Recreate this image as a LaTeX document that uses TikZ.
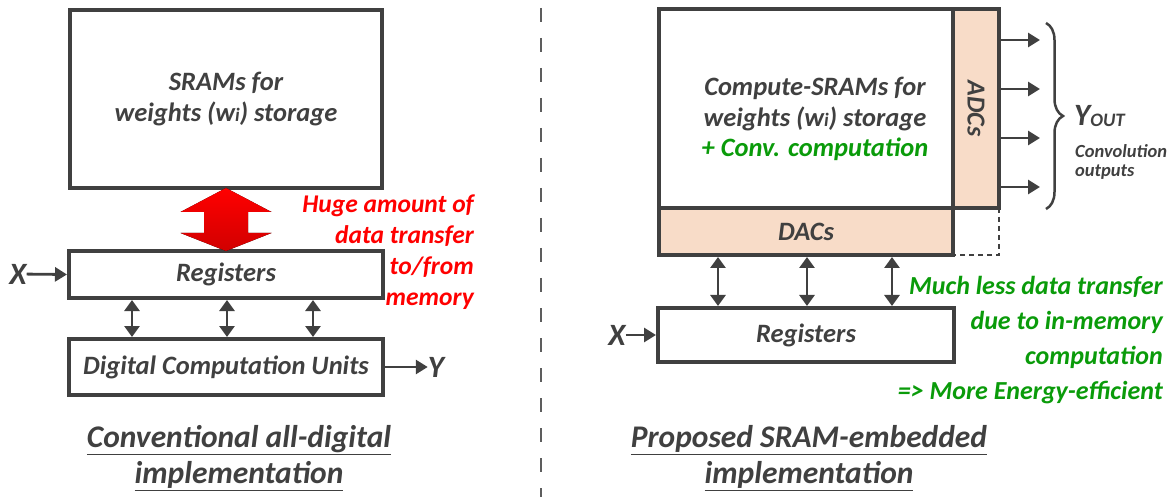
\documentclass[tikz,border=0pt]{standalone}
\usepackage{fontspec}
\setmainfont{Carlito}
\usetikzlibrary{arrows.meta,decorations.pathreplacing,calc}
\definecolor{txtgray}{RGB}{64,64,64}
\definecolor{linegray}{RGB}{64,64,64}
\definecolor{peach}{RGB}{248,220,200}
\definecolor{myred}{RGB}{255,0,0}
\definecolor{mygreen}{RGB}{10,155,10}
\newcommand{\fsz}[2]{\fontsize{#1}{#2}\selectfont}
\newcommand{\smi}{{\fontsize{19}{19}\selectfont i}}
\begin{document}
\begin{tikzpicture}[x=1pt,y=-1pt,
  box/.style={draw=linegray, line width=4pt, inner sep=0pt, outer sep=2pt,
    text=txtgray, font=\fsz{26.5}{31.5}\bfseries\itshape, align=center},
  lbl/.style={text=txtgray, inner sep=0pt, font=\fsz{31}{32}\bfseries\itshape},
  dbl/.style={draw=linegray, line width=2.8pt,
    {Triangle[length=11pt,width=15pt]}-{Triangle[length=11pt,width=15pt]}},
  sarr/.style={draw=linegray, line width=2.8pt, -{Triangle[length=12pt,width=14pt]}},
  dsh/.style={draw=linegray, line width=1.8pt, dash pattern=on 5pt off 4pt},
  title/.style={text=txtgray, inner sep=0pt, align=center,
    font=\fsz{31.5}{36}\bfseries\itshape}]
\useasboundingbox (0,0) rectangle (1176,497);

% divider
\draw[draw=linegray!85, line width=1.5pt, dash pattern=on 14pt off 16pt] (541,8) -- (541,497);

% ---------- left ----------
\node[box, minimum width=312pt, minimum height=178pt] (sram) at (226,99)
  {SRAMs for\\weights (w\smi) storage};
\node[box, minimum width=314pt, minimum height=47pt] (regL) at (226,274.5) {Registers};
\node[box, minimum width=314pt, minimum height=56pt] (dcu) at (226,367) {Digital Computation Units};

\fill[top color=myred, bottom color=myred!82!black]
  ([yshift=2pt]sram.south) -- ++(45.5,24) -- ++(-23.5,0) -- ++(0,21) -- ++(23.5,0)
  -- ++(-45.5,18) -- ++(-45.5,-18) -- ++(23.5,0) -- ++(0,-21) -- ++(-23.5,0) -- cycle;

\node[text=myred, inner sep=0pt, anchor=east, align=right, font=\fsz{25.5}{31}\bfseries\itshape]
  (huge) at (474,252) {Huge amount of\\data transfer\\to/from\\memory};

\foreach \dx in {-94,1,87}
  \draw[dbl] ([xshift=\dx pt]regL.south) -- ([xshift=\dx pt]dcu.north);

\node[lbl] (xL) at (18,274) {X};
\draw[sarr] (xL) -- (regL.west);
\node[lbl] (yL) at (436,367) {Y};
\draw[sarr] (dcu.east) -- (yL);

\node[title] (tL) at (239,458) {\underline{Conventional all-digital}\\\underline{implementation}};

% ---------- right ----------
\node[box, minimum width=294pt, minimum height=199pt] (csram) at (806,108.5) {};
\node[text=txtgray, inner sep=0pt, align=center, font=\fsz{26.5}{30.5}\bfseries\itshape]
  (csramt) at (815,119) {Compute-SRAMs for\\weights (w\smi) storage\\\textcolor{mygreen}{+ Conv. computation}};
\node[box, fill=peach, minimum width=46pt, minimum height=199pt] (adc) at (976,108.5) {};
\node[rotate=-90, text=txtgray, inner sep=0pt, font=\fsz{26}{28}\bfseries\itshape] (adct) at (adc.center) {ADCs};
\node[box, fill=peach, minimum width=294pt, minimum height=47pt] (dac) at (806,231.5) {DACs};
\draw[dsh] ([xshift=-2pt,yshift=2pt]adc.south east) |- ([yshift=2pt]dac.south east);

\foreach \yy/\nm in {40/o1,89/o2,138/o3,187/o4} {
  \coordinate (\nm) at (1040,\yy);
  \draw[sarr] (adc.east |- \nm) -- (\nm);
}
\draw[draw=linegray, line width=2.5pt, decorate, decoration={brace, amplitude=17pt}]
  (1046,23) -- (1046,209);
\node[text=txtgray, inner sep=0pt, anchor=base west, font=\fsz{31}{32}\bfseries\itshape]
  (yout) at (1074,126) {Y{\fsz{19}{20}\raisebox{-1pt}{OUT}}};
\node[text=txtgray, inner sep=0pt, anchor=north west, align=left, font=\fsz{18.5}{19.5}\bfseries\itshape]
  (conv) at (1075,144) {Convolution\\outputs};

\node[box, minimum width=296pt, minimum height=54pt] (regR) at (806,335) {Registers};
\foreach \dx in {-88,1,86}
  \draw[dbl] ([xshift=\dx pt]dac.south) -- ([xshift=\dx pt]regR.north);
\node[lbl] (xR) at (617,335) {X};
\draw[sarr] (xR) -- (regR.west);

\node[text=mygreen, inner sep=0pt, anchor=east, align=right, font=\fsz{26}{35}\bfseries\itshape]
  (less) at (1163,340) {Much less data transfer\\due to in-memory\\computation\\=> More Energy-efficient};

\node[title] (tR) at (809,458) {\underline{Proposed SRAM-embedded}\\\underline{implementation}};
\end{tikzpicture}
\end{document}
